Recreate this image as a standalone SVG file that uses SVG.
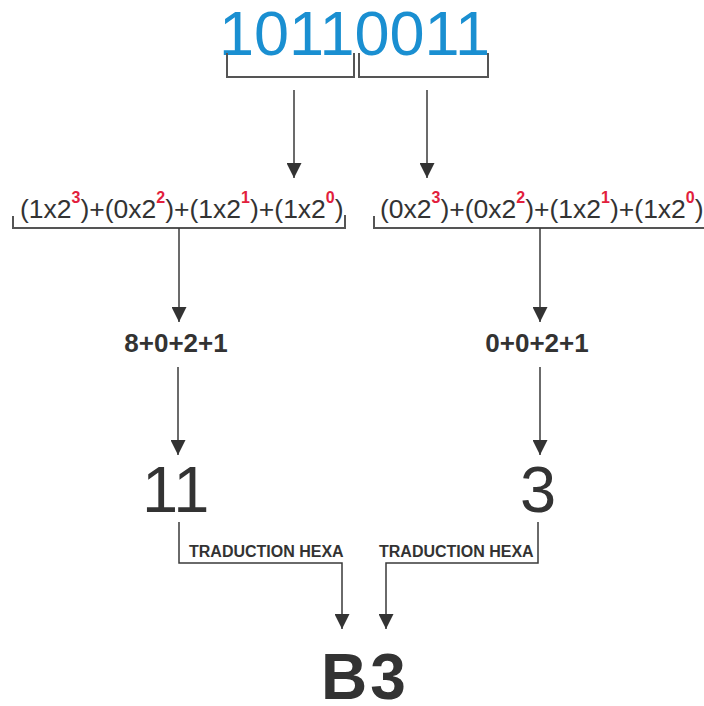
<svg xmlns="http://www.w3.org/2000/svg" width="704" height="706" viewBox="0 0 704 706">
<style>
  .t { font-family: "Liberation Sans", Arial, sans-serif; fill: #333333; }
  .bin { font-family: "Liberation Sans", Arial, sans-serif; fill: #1a8fd1; font-size: 63px; }
  .f { font-size: 26.5px; }
  .sup { font-family: "Liberation Sans", Arial, sans-serif; fill: #e2203c; font-size: 16px; font-weight: bold; }
  .b26 { font-size: 26px; font-weight: bold; }
  .big { font-size: 65px; }
  .lbl { font-size: 16px; font-weight: bold; }
  .res { font-size: 64px; font-weight: bold; }
  .br { fill: none; stroke: #555555; stroke-width: 2; }
  .ln { fill: none; stroke: #3a3a3a; stroke-width: 1.5; }
</style>
<defs>
  <marker id="ah" markerWidth="15" markerHeight="15" refX="15" refY="7.5" orient="auto" markerUnits="userSpaceOnUse">
    <path d="M0,0 L15,7.5 L0,15 z" fill="#333333"/>
  </marker>
</defs>

<g id="binary">
  <text class="bin" x="219" y="55">10110011</text>
  <path class="br" d="M227,53 V77 H354 V53"/>
  <path class="br" d="M359,53 V77 H488 V53"/>
</g>

<g id="formula-left">
  <text class="t f" x="20" y="218">(1x2<tspan class="sup" dy="-15">3</tspan><tspan dy="15">)+(0x2</tspan><tspan class="sup" dy="-15">2</tspan><tspan dy="15">)+(1x2</tspan><tspan class="sup" dy="-15">1</tspan><tspan dy="15">)+(1x2</tspan><tspan class="sup" dy="-15">0</tspan><tspan dy="15">)</tspan></text>
  <path class="br" d="M13,216 V228 H345 V215"/>
</g>

<g id="formula-right">
  <text class="t f" x="380" y="218">(0x2<tspan class="sup" dy="-15">3</tspan><tspan dy="15">)+(0x2</tspan><tspan class="sup" dy="-15">2</tspan><tspan dy="15">)+(1x2</tspan><tspan class="sup" dy="-15">1</tspan><tspan dy="15">)+(1x2</tspan><tspan class="sup" dy="-15">0</tspan><tspan dy="15">)</tspan></text>
  <path class="br" d="M374,216 V228 H705"/>
</g>

<g id="sum-left">
  <text class="t b26" x="176" y="352" text-anchor="middle">8+0+2+1</text>
</g>
<g id="sum-right">
  <text class="t b26" x="537" y="352" text-anchor="middle">0+0+2+1</text>
</g>

<g id="dec-left">
  <text class="t big" x="142" y="512">11</text>
</g>
<g id="dec-right">
  <text class="t big" x="520" y="512">3</text>
</g>

<g id="label-left">
  <text class="t lbl" x="189" y="557">TRADUCTION HEXA</text>
</g>
<g id="label-right">
  <text class="t lbl" x="379" y="557">TRADUCTION HEXA</text>
</g>

<g id="result">
  <text class="t res" x="321" y="699" letter-spacing="3">B3</text>
</g>

<g id="connectors">
  <line class="ln" x1="294" y1="90" x2="294" y2="178" marker-end="url(#ah)"/>
  <line class="ln" x1="427" y1="90" x2="427" y2="178" marker-end="url(#ah)"/>
  <line class="ln" x1="179" y1="228" x2="179" y2="322" marker-end="url(#ah)"/>
  <line class="ln" x1="540" y1="228" x2="540" y2="322" marker-end="url(#ah)"/>
  <line class="ln" x1="178" y1="367" x2="178" y2="455" marker-end="url(#ah)"/>
  <line class="ln" x1="540" y1="367" x2="540" y2="455" marker-end="url(#ah)"/>
  <polyline class="ln" points="179,522 179,563 342,563 342,629" marker-end="url(#ah)"/>
  <polyline class="ln" points="538,522 538,563 386,563 386,629" marker-end="url(#ah)"/>
</g>
</svg>
